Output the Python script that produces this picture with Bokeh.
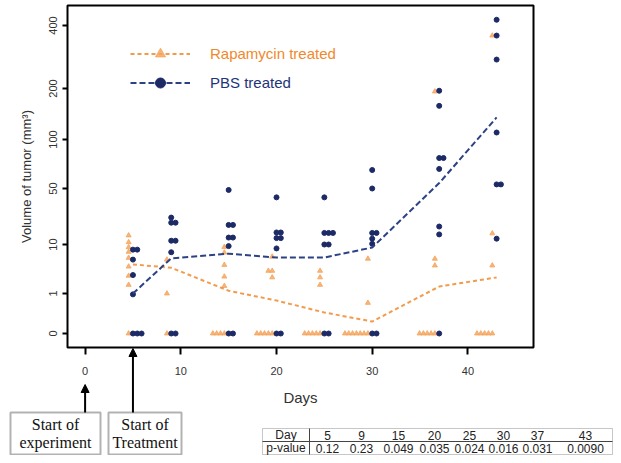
import math
import numpy as np
from bokeh.plotting import figure
from bokeh.layouts import column
from bokeh.models import (Range1d, FixedTicker, Legend, LegendItem, Label,
                          Arrow, NormalHead, BoxAnnotation)
from bokeh.embed import file_html
from bokeh.resources import INLINE

# ---------------- data ----------------
DAYS = [5, 9, 15, 20, 25, 30, 37, 43]

RAPA_MEAN = [4.5, 3.9, 1.2, 0.77, 0.44, 0.23, 1.55, 2.5]
PBS_MEAN = [1.0, 5.8, 7.0, 6.0, 6.0, 8.9, 54, 135]

RAPA_DAY5 = [13.1, 10.7, 9.0, 7.5, 5.9, 4.1, 2.7, 1.7, 0]
RAPA_DAY9 = [5.5, 1.0, 0]
RAPA_DAY15 = [9.1, 7.3, 4.4, 2.6, 1.6, 0, 0, 0, 0]
RAPA_DAY20 = [6.2, 3.4, 3.4, 2.5, 0, 0, 0, 0, 0]
RAPA_DAY25 = [3.4, 2.5, 1.7, 0, 0, 0, 0, 0]
RAPA_DAY30 = [5.7, 0.7, 0, 0, 0, 0, 0, 0, 0]
RAPA_DAY37 = [192, 5.7, 4.3, 0, 0, 0, 0, 0]
RAPA_DAY43 = [358, 13.9, 4.3, 0, 0, 0, 0, 0]

PBS_DAY5 = [8.2, 8.2, 5.5, 2.8, 0.97, 0, 0, 0]
PBS_DAY9 = [22, 19, 19, 11.2, 11.2, 7.4, 0, 0]
PBS_DAY15 = [48, 17.8, 17.8, 12.3, 12.3, 9.4, 0, 0]
PBS_DAY20 = [39, 14.3, 14.3, 12.1, 12.1, 8.6, 0, 0]
PBS_DAY25 = [39, 14.1, 14.1, 14.1, 10.0, 10.0, 0, 0]
PBS_DAY30 = [65, 50, 14.1, 14.1, 11.9, 10.2, 0, 0]
PBS_DAY37 = [194, 158, 77, 77, 66, 17, 13.5, 0]
PBS_DAY43 = [426, 358, 275, 110, 53, 53, 11.9]

X_TICKS = [0, 10, 20, 30, 40]
Y_TICK_VALUES = [0, 1, 10, 50, 100, 200, 400]

TABLE_DAYS = ["5", "9", "15", "20", "25", "30", "37", "43"]
TABLE_PVALUES = ["0.12", "0.23", "0.049", "0.035", "0.024", "0.016", "0.031", "0.0090"]

EXPERIMENT_START_DAY = 0
TREATMENT_START_DAY = 5

RAPA_LABEL = "Rapamycin treated"
PBS_LABEL = "PBS treated"

# ---------------- styling / layout ----------------
ORANGE = "#F0892C"
ORANGE_PT = "#F5A760"
BLUE = "#22337A"
BLUE_PT = "#1C2A66"
BLUE_LINE = "#2C4284"
INK = "#333333"
SANS = "Liberation Sans"
SERIF = "Liberation Serif"

# irregular vertical scale of the original: axis position of each tick
Y_TICK_AXIS = [0, 40, 89, 145, 194, 245, 308]
_U = [math.log10(t + 1) for t in Y_TICK_VALUES]


def to_axis(v):
    u = math.log10(v + 1)
    if u > _U[-1]:
        slope = (Y_TICK_AXIS[-1] - Y_TICK_AXIS[-2]) / (_U[-1] - _U[-2])
        return Y_TICK_AXIS[-1] + (u - _U[-1]) * slope
    return float(np.interp(u, _U, Y_TICK_AXIS))


# picture pixels -> plot coordinates
X0_PX, PX_PER_DAY, ZERO_PX = 84.6, 9.57, 333.0


def xpx(px):
    return (px - X0_PX) / PX_PER_DAY


def ypx(py):
    return ZERO_PX - py


W, TOTAL_H = 613, 455
TOP_H = 412
FRAME_L, FRAME_R, FRAME_T, FRAME_B = 67, 533, 5, 347
BOT_TOP = FRAME_B           # the annotation strip starts at the x axis line
BOT_H = TOTAL_H - BOT_TOP


def no_align(fig):
    if "frame_align" in fig.properties():
        fig.frame_align = False


# ================= chart =================
p = figure(width=W, height=TOP_H, output_backend="svg", toolbar_location=None,
           title=None,
           x_range=Range1d(xpx(FRAME_L), xpx(FRAME_R)),
           y_range=Range1d(ypx(FRAME_B), ypx(FRAME_T)),
           min_border_left=FRAME_L, min_border_right=W - FRAME_R,
           min_border_top=FRAME_T, min_border_bottom=TOP_H - FRAME_B)
no_align(p)
p.grid.visible = False
p.outline_line_color = "black"
p.outline_line_width = 2
p.background_fill_color = "white"
p.border_fill_color = "white"

p.xaxis.ticker = FixedTicker(ticks=X_TICKS)
p.xaxis.axis_line_color = None
p.xaxis.major_tick_line_color = "black"
p.xaxis.major_tick_line_width = 2
p.xaxis.major_tick_out = 7
p.xaxis.major_tick_in = 0
p.xaxis.minor_tick_line_color = None
p.xaxis.major_label_text_font = SANS
p.xaxis.major_label_text_font_size = "11px"
p.xaxis.major_label_text_color = INK
p.xaxis.major_label_standoff = 12
p.xaxis.axis_label = "Days"
p.xaxis.axis_label_text_font = SANS
p.xaxis.axis_label_text_font_size = "15px"
p.xaxis.axis_label_text_font_style = "normal"
p.xaxis.axis_label_text_color = INK
p.xaxis.axis_label_standoff = 11

ytick_pos = [to_axis(v) for v in Y_TICK_VALUES]
p.yaxis.ticker = FixedTicker(ticks=ytick_pos)
p.yaxis.major_label_overrides = {pos: str(v) for pos, v in zip(ytick_pos, Y_TICK_VALUES)}
p.yaxis.axis_line_color = None
p.yaxis.major_tick_line_color = "black"
p.yaxis.major_tick_line_width = 2
p.yaxis.major_tick_out = 5
p.yaxis.major_tick_in = 0
p.yaxis.minor_tick_line_color = None
p.yaxis.major_label_orientation = "vertical"
p.yaxis.major_label_text_font = SANS
p.yaxis.major_label_text_font_size = "11px"
p.yaxis.major_label_text_color = INK
p.yaxis.major_label_standoff = 6
p.yaxis.axis_label = "Volume of tumor (mm\u00b3)"
p.yaxis.axis_label_text_font = SANS
p.yaxis.axis_label_text_font_size = "13px"
p.yaxis.axis_label_text_font_style = "normal"
p.yaxis.axis_label_text_color = INK
p.yaxis.axis_label_standoff = 12


def stacked(days, groups, start, step):
    xs, ys = [], []
    for d, vals in zip(days, groups):
        seen = {}
        for v in vals:
            k = seen.get(v, 0)
            seen[v] = k + 1
            xs.append(d + start + step * k)
            ys.append(to_axis(v))
    return xs, ys


rapa_groups = [RAPA_DAY5, RAPA_DAY9, RAPA_DAY15, RAPA_DAY20,
               RAPA_DAY25, RAPA_DAY30, RAPA_DAY37, RAPA_DAY43]
pbs_groups = [PBS_DAY5, PBS_DAY9, PBS_DAY15, PBS_DAY20,
              PBS_DAY25, PBS_DAY30, PBS_DAY37, PBS_DAY43]

rx, ry = stacked(DAYS, rapa_groups, -0.45, -0.4)
bx, by = stacked(DAYS, pbs_groups, 0.0, 0.45)

rs = p.scatter(rx, ry, marker="triangle", size=5, fill_color=ORANGE_PT,
               line_color=ORANGE_PT, alpha=0.85)
bs = p.scatter(bx, by, marker="circle", size=5, fill_color=BLUE_PT,
               line_color=BLUE_PT)

rl = p.line(DAYS, [to_axis(v) for v in RAPA_MEAN], line_color=ORANGE,
            line_width=2, line_dash="4 3", line_alpha=0.85)
bl = p.line(DAYS, [to_axis(v) for v in PBS_MEAN], line_color=BLUE_LINE,
            line_width=2, line_dash="6 3")

# two legends so that each label keeps its own colour
for label, rends, color, center_py in [(RAPA_LABEL, [rl, rs], ORANGE, 53),
                                       (PBS_LABEL, [bl, bs], BLUE, 82)]:
    leg = Legend(items=[LegendItem(label=label, renderers=rends)],
                 location=(130 - FRAME_L, FRAME_B - (center_py + 12.5)),
                 glyph_width=60, glyph_height=25, label_height=25,
                 label_standoff=20, padding=0, margin=0,
                 border_line_alpha=0, background_fill_alpha=0,
                 label_text_font=SANS, label_text_font_size="15px",
                 label_text_color=color)
    p.add_layout(leg)

# ========= transparent annotation strip, pulled up over the axis area =========
q = figure(width=W, height=BOT_H, output_backend="svg", toolbar_location=None,
           title=None, x_axis_type=None, y_axis_type=None,
           x_range=Range1d(xpx(0), xpx(W)),
           y_range=Range1d(ypx(TOTAL_H), ypx(BOT_TOP)),
           min_border=0, min_border_left=0, min_border_right=0,
           min_border_top=0, min_border_bottom=0)
no_align(q)
q.margin = (BOT_TOP - TOP_H, 0, 0, 0)
q.grid.visible = False
q.outline_line_color = None
q.background_fill_alpha = 0
q.border_fill_alpha = 0

BOX1 = dict(l=10, r=100, t=412, b=454)
BOX2 = dict(l=108, r=181, t=412, b=454)
for box, lines in [(BOX1, ["Start of", "experiment"]), (BOX2, ["Start of", "Treatment"])]:
    q.add_layout(BoxAnnotation(left=xpx(box["l"]), right=xpx(box["r"]),
                               top=ypx(box["t"]), bottom=ypx(box["b"]),
                               fill_color="white", fill_alpha=1,
                               line_color="black", line_width=2))
    cx = xpx((box["l"] + box["r"]) / 2)
    for i, txt in enumerate(lines):
        q.add_layout(Label(x=cx, y=ypx(box["t"] + 12 + 18 * i), text=txt,
                           text_align="center", text_baseline="middle",
                           text_font=SERIF, text_font_size="16px",
                           text_color="#111111"))

q.add_layout(Arrow(end=NormalHead(size=8, fill_color="black", line_color="black"),
                   x_start=EXPERIMENT_START_DAY, y_start=ypx(BOX1["t"]),
                   x_end=EXPERIMENT_START_DAY, y_end=ypx(384),
                   line_width=2, line_color="black"))
q.add_layout(Arrow(end=NormalHead(size=8, fill_color="black", line_color="black"),
                   x_start=TREATMENT_START_DAY, y_start=ypx(BOX2["t"]),
                   x_end=TREATMENT_START_DAY, y_end=ypx(FRAME_B + 1),
                   line_width=2, line_color="black"))

# p-value table
T_L, T_R, T_T, T_M, T_B, T_DIV = 262, 612, 428, 441, 454, 309
COL_CENTERS = [327, 361, 398, 434, 469, 503, 537, 585]
q.add_layout(BoxAnnotation(left=xpx(T_L), right=xpx(T_R), top=ypx(T_T), bottom=ypx(T_B),
                           fill_color="white", fill_alpha=1,
                           line_color="#444444", line_width=1))
q.add_layout(Arrow(start=None, end=None, x_start=xpx(T_L), x_end=xpx(T_R),
                   y_start=ypx(T_M), y_end=ypx(T_M), line_color="#444444", line_width=1))
q.add_layout(Arrow(start=None, end=None, x_start=xpx(T_DIV), x_end=xpx(T_DIV),
                   y_start=ypx(T_T), y_end=ypx(T_B), line_color="#444444", line_width=1))
row1_y = ypx((T_T + T_M) / 2)
row2_y = ypx((T_M + T_B) / 2)
head_x = xpx((T_L + T_DIV) / 2)
for txt, yy in [("Day", row1_y), ("p-value", row2_y)]:
    q.add_layout(Label(x=head_x, y=yy, text=txt, text_align="center",
                       text_baseline="middle", text_font=SANS, text_font_size="12px",
                       text_color="#222222"))
for cxp, dtxt, ptxt in zip(COL_CENTERS, TABLE_DAYS, TABLE_PVALUES):
    for txt, yy in [(dtxt, row1_y), (ptxt, row2_y)]:
        q.add_layout(Label(x=xpx(cxp), y=yy, text=txt, text_align="center",
                           text_baseline="middle", text_font=SANS, text_font_size="12px",
                           text_color="#222222"))

layout = column(p, q, spacing=0)
open("out.html", "w").write(file_html(layout, INLINE))
